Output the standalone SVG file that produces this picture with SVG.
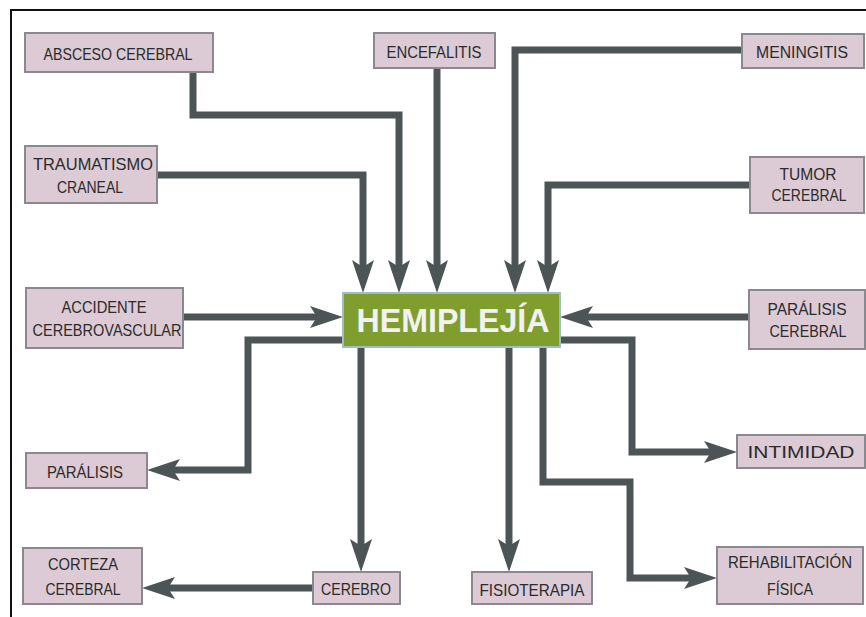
<svg xmlns="http://www.w3.org/2000/svg" width="866" height="617" viewBox="0 0 866 617">
<style>
.node{fill:#dccad4;stroke:#8c8890;stroke-width:2}
.t{font-family:"Liberation Sans",Arial,sans-serif;font-size:17px;fill:#2b2b2b;text-anchor:middle}
.main{fill:#7f9e2e;stroke:#9fbcc8;stroke-width:2}
.mt{font-family:"Liberation Sans",Arial,sans-serif;font-size:33px;font-weight:bold;fill:#f2f2f2;text-anchor:middle}
.c{fill:none;stroke:#4c5456;stroke-width:7;stroke-linejoin:miter;marker-end:url(#ah)}
</style>
<defs>
<marker id="ah" markerUnits="userSpaceOnUse" markerWidth="34" markerHeight="22" viewBox="0 0 34 22" refX="9" refY="11" orient="auto">
<path d="M0,0 L33,11 L0,22 L7,11 z" fill="#4c5456"/>
</marker>
</defs>
<rect width="866" height="617" fill="#ffffff"/>
<path d="M11,617 V10 H866" fill="none" stroke="#111" stroke-width="2"/>

<g id="connectors">
<path class="c" d="M193,72 V115 H399 V269"/>
<path class="c" d="M157,175 H363 V269"/>
<path class="c" d="M437,68 V269"/>
<path class="c" d="M742,50 H515 V269"/>
<path class="c" d="M750,185 H548 V269"/>
<path class="c" d="M183,317 H319"/>
<path class="c" d="M749,317 H584"/>
<path class="c" d="M343,340 H248 V470 H171"/>
<path class="c" d="M560,340 H632 V452 H713"/>
<path class="c" d="M361,347 V548"/>
<path class="c" d="M509,347 V548"/>
<path class="c" d="M543,347 V482 H630 V578 H693"/>
<path class="c" d="M313,588 H166"/>
</g>

<g id="absceso">
<rect class="node" x="25" y="33" width="188" height="39"/>
<text class="t" x="118" y="60" textLength="149" lengthAdjust="spacingAndGlyphs">ABSCESO CEREBRAL</text>
</g>
<g id="traumatismo">
<rect class="node" x="25" y="146" width="132" height="57"/>
<text class="t" x="93" y="170" textLength="120" lengthAdjust="spacingAndGlyphs">TRAUMATISMO</text>
<text class="t" x="90" y="193" textLength="66" lengthAdjust="spacingAndGlyphs">CRANEAL</text>
</g>
<g id="encefalitis">
<rect class="node" x="374" y="33" width="121" height="35"/>
<text class="t" x="434" y="58" textLength="95" lengthAdjust="spacingAndGlyphs">ENCEFALITIS</text>
</g>
<g id="meningitis">
<rect class="node" x="742" y="34" width="122" height="34"/>
<text class="t" x="802" y="58" textLength="92" lengthAdjust="spacingAndGlyphs">MENINGITIS</text>
</g>
<g id="tumor">
<rect class="node" x="750" y="157" width="114" height="56"/>
<text class="t" x="808" y="180" textLength="57" lengthAdjust="spacingAndGlyphs">TUMOR</text>
<text class="t" x="809" y="201" textLength="75" lengthAdjust="spacingAndGlyphs">CEREBRAL</text>
</g>
<g id="accidente">
<rect class="node" x="26" y="288" width="157" height="60"/>
<text class="t" x="104" y="313" textLength="85" lengthAdjust="spacingAndGlyphs">ACCIDENTE</text>
<text class="t" x="107" y="336" textLength="149" lengthAdjust="spacingAndGlyphs">CEREBROVASCULAR</text>
</g>
<g id="hemiplejia">
<rect class="main" x="343" y="293" width="217" height="54"/>
<text class="mt" x="453" y="332" textLength="193" lengthAdjust="spacingAndGlyphs">HEMIPLEJÍA</text>
</g>
<g id="paralisis-cerebral">
<rect class="node" x="749" y="290" width="116" height="59"/>
<text class="t" x="807" y="315" textLength="79" lengthAdjust="spacingAndGlyphs">PARÁLISIS</text>
<text class="t" x="808" y="337" textLength="77" lengthAdjust="spacingAndGlyphs">CEREBRAL</text>
</g>
<g id="paralisis">
<rect class="node" x="26" y="453" width="121" height="35"/>
<text class="t" x="85" y="478" textLength="76" lengthAdjust="spacingAndGlyphs">PARÁLISIS</text>
</g>
<g id="intimidad">
<rect class="node" x="737" y="435" width="128" height="33"/>
<text class="t" x="801" y="458" textLength="107" lengthAdjust="spacingAndGlyphs">INTIMIDAD</text>
</g>
<g id="corteza">
<rect class="node" x="23" y="548" width="119" height="56"/>
<text class="t" x="83" y="570" textLength="70" lengthAdjust="spacingAndGlyphs">CORTEZA</text>
<text class="t" x="83" y="595" textLength="75" lengthAdjust="spacingAndGlyphs">CEREBRAL</text>
</g>
<g id="cerebro">
<rect class="node" x="313" y="572" width="87" height="32"/>
<text class="t" x="356" y="595" textLength="70" lengthAdjust="spacingAndGlyphs">CEREBRO</text>
</g>
<g id="fisioterapia">
<rect class="node" x="472" y="572" width="120" height="32"/>
<text class="t" x="532" y="596" textLength="105" lengthAdjust="spacingAndGlyphs">FISIOTERAPIA</text>
</g>
<g id="rehabilitacion">
<rect class="node" x="717" y="547" width="146" height="57"/>
<text class="t" x="790" y="568" textLength="124" lengthAdjust="spacingAndGlyphs">REHABILITACIÓN</text>
<text class="t" x="790" y="595" textLength="46" lengthAdjust="spacingAndGlyphs">FÍSICA</text>
</g>
</svg>
